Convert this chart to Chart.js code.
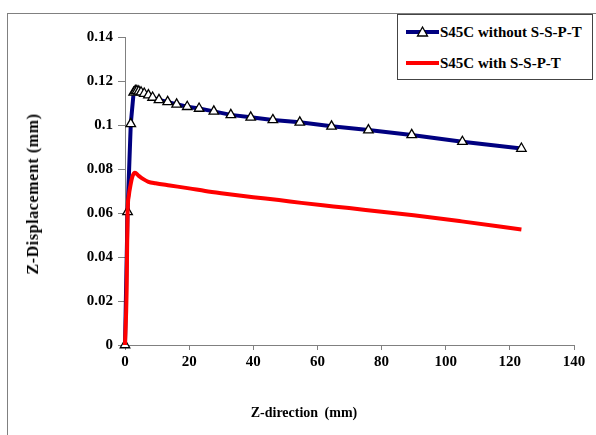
<!DOCTYPE html>
<html>
<head>
<meta charset="utf-8">
<script src="https://cdn.jsdelivr.net/npm/chart.js@4/dist/chart.umd.min.js"></script>
<style>
  body { margin: 0; background: #fff; }
  #wrap { position: relative; width: 596px; height: 435px; overflow: hidden; font-family: "Liberation Serif", "Times New Roman", serif; }
  #frame { position: absolute; left: 7px; top: 13px; width: 620px; height: 460px; border: 1px solid #808080; }
  canvas { position: absolute; left: 0; top: 0; }
  .title { position: absolute; font-weight: bold; color: #000; white-space: nowrap; }
  #xTitle { left: 304px; top: 413px; font-size: 14px; word-spacing: 3px; transform: translate(-50%, -50%); }
  #yTitle { left: 33px; top: 194px; font-size: 16px; letter-spacing: 0.6px; transform: translate(-50%, -50%) rotate(-90deg); }
  #legend { position: absolute; left: 397px; top: 14px; width: 194px; height: 64px; background: #fff; border: 1px solid #444; }
  .row { position: absolute; left: 8px; height: 16px; display: flex; align-items: center; font-weight: bold; font-size: 15px; }
  .row svg { margin-right: 1px; }
</style>
</head>
<body>
<div id="wrap">
  <div id="frame"></div>
  <canvas id="chart" width="596" height="435"></canvas>
  <div class="title" id="xTitle">Z-direction (mm)</div>
  <div class="title" id="yTitle">Z-Displacement (mm)</div>
  <div id="legend">
    <div class="row" style="top: 9px;">
      <svg width="33" height="14"><line x1="0" y1="7" x2="33" y2="7" stroke="#000080" stroke-width="4"/><polygon points="16.5,2 21.5,11 11.5,11" fill="#fff" stroke="#000" stroke-width="1.3"/></svg>
      <span>S45C without S-S-P-T</span>
    </div>
    <div class="row" style="top: 40px;">
      <svg width="33" height="14"><line x1="0" y1="7" x2="33" y2="7" stroke="#ff0000" stroke-width="4"/></svg>
      <span>S45C with S-S-P-T</span>
    </div>
  </div>
</div>
<script>
// Z-direction (mm) / Z-displacement (mm)
const X_SIN = [0, 0.8, 1.8, 2.7, 3.2, 3.7, 4.3, 5.0, 6.0, 7.3, 8.6, 10.6, 13.3, 16.1, 19.4, 23.1, 27.7, 33.0, 39.2, 46.1, 54.5, 64.4, 75.9, 89.4, 105.2, 123.6];
const Y_SIN = [0, 0.0605, 0.1005, 0.1148, 0.1155, 0.1155, 0.1153, 0.1149, 0.1143, 0.1136, 0.1125, 0.1114, 0.1105, 0.1094, 0.1083, 0.1075, 0.1062, 0.1046, 0.1035, 0.1023, 0.1012, 0.0994, 0.0977, 0.0955, 0.0924, 0.0893];

const X_CON = [0, 0.5, 0.8, 1.2, 1.7, 2.3, 3.1, 4.2, 5.6, 7.3, 9.5, 14, 20, 25, 30, 40, 48, 55, 65, 75, 90, 105, 123.6];
const Y_CON = [0, 0.024, 0.06, 0.068, 0.0725, 0.0765, 0.0783, 0.077, 0.0755, 0.0742, 0.0735, 0.0725, 0.0712, 0.0700, 0.0690, 0.0672, 0.0659, 0.0646, 0.0630, 0.0614, 0.0590, 0.0562, 0.0525];

const SERIES = ["S45C without S-S-P-T", "S45C with S-S-P-T"];

const toPoints = (xs, ys) => xs.map((x, i) => ({ x, y: ys[i] }));

const tickFont = { family: "Liberation Serif", weight: "bold", size: 15 };

new Chart(document.getElementById("chart").getContext("2d"), {
  type: "line",
  data: {
    datasets: [
      {
        label: SERIES[0],
        data: toPoints(X_SIN, Y_SIN),
        borderColor: "#000080",
        borderWidth: 4,
        pointStyle: "triangle",
        pointRadius: 5.5,
        pointBackgroundColor: "#fff",
        pointBorderColor: "#000",
        pointBorderWidth: 1.3,
        tension: 0,
        order: 1,
        clip: false,
      },
      {
        label: SERIES[1],
        data: toPoints(X_CON, Y_CON),
        borderColor: "#ff0000",
        borderWidth: 4,
        pointRadius: 0,
        cubicInterpolationMode: "monotone",
        order: 0,
        clip: false,
      },
    ],
  },
  options: {
    responsive: false,
    animation: false,
    layout: { padding: { top: 37, right: 22, left: 0, bottom: 0 } },
    plugins: { legend: { display: false }, tooltip: { enabled: false } },
    scales: {
      x: {
        type: "linear",
        min: 0,
        max: 140,
        afterFit: (s) => { s.height = 90; },
        ticks: { stepSize: 20, color: "#000", font: tickFont, padding: 3 },
        grid: { drawOnChartArea: false, drawTicks: true, tickLength: 5, color: "#808080" },
        border: { color: "#808080", width: 1 },
      },
      y: {
        type: "linear",
        min: 0,
        max: 0.14,
        afterFit: (s) => { s.width = 125; },
        ticks: {
          stepSize: 0.02,
          color: "#000",
          font: tickFont,
          padding: 5,
          callback: (v) => String(+v.toFixed(2)),
        },
        grid: { drawOnChartArea: false, drawTicks: true, tickLength: 7, color: "#808080" },
        border: { color: "#808080", width: 1 },
      },
    },
  },
});
</script>
</body>
</html>
